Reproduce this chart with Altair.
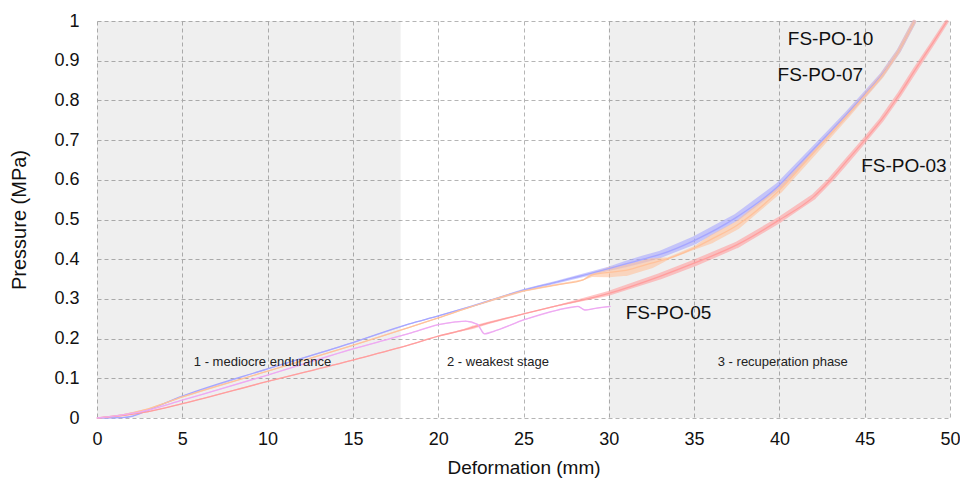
import altair as alt
import pandas as pd

# ---- data ----
names = ["FS-PO-10", "FS-PO-07", "FS-PO-03", "FS-PO-05"]
colors = ["#a6a6ff", "#ffc29b", "#ff9e9e", "#eeaaf2"]

x10 = [0, 1.5, 2.1, 3, 5, 10, 15, 18.3, 20, 22, 25, 27, 30, 31, 32, 33, 35, 37.5, 40, 41, 42, 43, 44, 45, 46, 47, 47.9]
y10 = [0, 0.001, 0.005, 0.02, 0.055, 0.124, 0.19, 0.237, 0.257, 0.282, 0.322, 0.343, 0.376, 0.388, 0.400, 0.412, 0.447, 0.506, 0.587, 0.632, 0.677, 0.722, 0.768, 0.815, 0.864, 0.925, 0.998]
a10 = [0, 0, 0, 0, 0, 0, 0, 0, 0, 0.004, 0.006, 0.007, 0.01, 0.016, 0.018, 0.018, 0.02, 0.018, 0.016, 0.015, 0.014, 0.013, 0.012, 0.012, 0.011, 0.011, 0.01]

x07 = [0, 1.5, 3, 5, 10, 15, 18.3, 20, 22, 25, 27, 28.5, 29, 30, 31, 32.5, 33.5, 35, 36, 37.5, 40, 42, 44, 45, 46, 47, 47.9]
y07 = [0, 0.008, 0.023, 0.053, 0.118, 0.183, 0.228, 0.252, 0.281, 0.32, 0.336, 0.348, 0.36, 0.367, 0.372, 0.39, 0.402, 0.428, 0.45, 0.485, 0.574, 0.668, 0.763, 0.812, 0.862, 0.925, 0.998]
a07 = [0, 0, 0, 0, 0, 0, 0, 0, 0.003, 0.004, 0.004, 0, 0.01, 0.025, 0.028, 0.025, 0.006, 0.008, 0.02, 0.02, 0.016, 0.014, 0.012, 0.011, 0.011, 0.01, 0.01]

x03 = [0, 1.5, 3, 5, 10, 15, 18.3, 20, 21.5, 22, 23, 25, 27, 30, 33, 35, 37.5, 40, 42, 43, 44, 45, 46, 47, 48, 49, 49.8]
y03 = [0, 0.006, 0.016, 0.036, 0.092, 0.146, 0.184, 0.206, 0.222, 0.228, 0.24, 0.262, 0.283, 0.314, 0.357, 0.39, 0.436, 0.499, 0.557, 0.6, 0.65, 0.7, 0.752, 0.813, 0.88, 0.945, 0.998]
a03 = [0, 0, 0, 0, 0, 0, 0, 0, 0.004, 0.008, 0.006, 0.003, 0.003, 0.012, 0.016, 0.017, 0.016, 0.015, 0.014, 0.013, 0.013, 0.012, 0.012, 0.012, 0.012, 0.011, 0.01]

x05 = [0, 1.5, 3, 5, 10, 15, 17.2, 18.3, 20, 21, 21.6, 22.3, 22.7, 23.5, 25, 27, 28.2, 28.6, 29.2, 30.1]
y05 = [0, 0.008, 0.02, 0.045, 0.108, 0.174, 0.2, 0.213, 0.235, 0.242, 0.244, 0.236, 0.212, 0.222, 0.247, 0.272, 0.281, 0.272, 0.276, 0.281]
a05 = [0] * len(x05)

band_start = [0, 30]
band_end = [17.8, 50]

band_texts = ["1 - mediocre endurance", "2 - weakest stage", "3 - recuperation phase"]
band_text_x = [9.7, 23.5, 40.2]
band_text_y = [0.141, 0.141, 0.141]

label_x = [43.0, 42.4, 47.3, 33.5]
label_y = [0.955, 0.864, 0.635, 0.264]

x_ticks = [0, 5, 10, 15, 20, 25, 30, 35, 40, 45, 50]
y_ticks = [0, 0.1, 0.2, 0.3, 0.4, 0.5, 0.6, 0.7, 0.8, 0.9, 1]

# ---- tables ----
rows = []
for name, xs, ys, amps in zip(names, [x10, x07, x03, x05], [y10, y07, y03, y05], [a10, a07, a03, a05]):
    for i, (xv, yv, av) in enumerate(zip(xs, ys, amps)):
        rows.append({"series": name, "i": i, "x": xv, "y": yv, "amp": av})
curves = pd.DataFrame(rows)
bands = pd.DataFrame({"x0": band_start, "x1": band_end})
btext = pd.DataFrame({"t": band_texts, "x": band_text_x, "y": band_text_y})
ltext = pd.DataFrame({"t": names, "x": label_x, "y": label_y})

PLOT_W, PLOT_H = 853, 397
xscale = alt.Scale(domain=[0, 50], nice=False)
yscale = alt.Scale(domain=[0, 1], nice=False)
cscale = alt.Scale(domain=names, range=colors)
# oscillation amplitude (MPa) drawn to scale of the y axis
wscale = alt.Scale(domain=[0, 0.1], range=[0, 0.1 * PLOT_H], zero=False, nice=False)

xaxis = alt.Axis(values=x_ticks, title="Deformation (mm)", grid=True, domain=False, ticks=False,
                 labelFontSize=18, titleFontSize=19, labelPadding=12, titlePadding=10,
                 labelFlush=False)
yaxis = alt.Axis(values=y_ticks, title="Pressure (MPa)", grid=True, domain=False, ticks=False,
                 format=".1~f", labelFontSize=18, titleFontSize=20, labelPadding=18,
                 titlePadding=24, labelFlush=False, labelOverlap=False)


def X(field):
    return alt.X(field, scale=xscale, axis=xaxis)


def Y(field):
    return alt.Y(field, scale=yscale, axis=yaxis)


band_layer = alt.Chart(bands).mark_rect(color="#000000", opacity=0.063).encode(
    x=X("x0:Q"),
    x2="x1:Q",
)

trail_layer = alt.Chart(curves).mark_trail(opacity=0.6).encode(
    x=X("x:Q"),
    y=Y("y:Q"),
    size=alt.Size("amp:Q", scale=wscale, legend=None),
    color=alt.Color("series:N", scale=cscale, legend=None),
    detail="series:N",
    order="i:Q",
)

line_layer = alt.Chart(curves).mark_line(strokeWidth=1.3, interpolate="monotone").encode(
    x=X("x:Q"),
    y=Y("y:Q"),
    color=alt.Color("series:N", scale=cscale, legend=None),
    detail="series:N",
    order="i:Q",
)

btext_layer = alt.Chart(btext).mark_text(fontSize=13, color="#222222", align="center",
                                          baseline="middle").encode(
    x=X("x:Q"), y=Y("y:Q"), text="t:N")

ltext_layer = alt.Chart(ltext).mark_text(fontSize=19, color="#111111", align="center",
                                          baseline="middle").encode(
    x=X("x:Q"), y=Y("y:Q"), text="t:N")

chart = alt.layer(band_layer, trail_layer, line_layer, btext_layer, ltext_layer).properties(
    width=PLOT_W, height=PLOT_H,
    autosize=alt.AutoSizeParams(type="none"),
    padding={"left": 97, "top": 21, "right": 10, "bottom": 62},
    background="white",
).configure(font="Liberation Sans").configure_axis(
    gridColor="#b5b5b5", gridDash=[4, 3], gridWidth=1, labelColor="#111111",
    titleColor="#111111", titleFontWeight="normal", labelFont="Liberation Sans",
    titleFont="Liberation Sans",
).configure_view(strokeWidth=0)

chart.save("out.html", embed_options={"renderer": "svg", "actions": False})
